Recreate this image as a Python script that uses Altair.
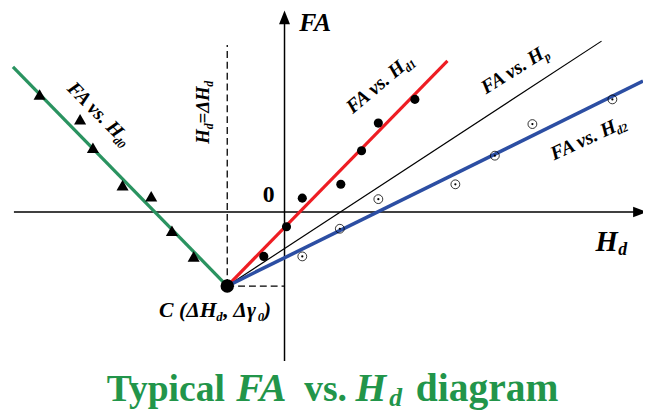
import altair as alt
import pandas as pd

# ---- data (chart units: origin at axis crossing) ----
C_point = (-5.8, -7.5)

tri_x = [-24.8, -20.7, -19.4, -16.4, -13.5, -11.4, -9.2]
tri_y = [11.9, 9.4, 6.5, 2.7, 1.6, -1.9, -4.5]

dot_x = [-2.1, 0.2, 1.8, 5.7, 7.8, 9.5, 13.2]
dot_y = [-4.5, -1.5, 1.4, 2.8, 6.2, 9.0, 11.4]

odot_x = [1.8, 5.6, 9.5, 17.3, 21.3, 25.1, 33.2]
odot_y = [-4.5, -1.7, 1.3, 2.8, 5.7, 8.9, 11.4]

# fitted line end points (other end is C)
green_end = (-27.5, 14.7)
red_end = (16.5, 15.3)
black_end = (32.1, 17.3)
blue_end = (36.3, 13.25)

FONT = "Liberation Serif"
xs = alt.Scale(domain=[-28.0, 36.3], nice=False, zero=False)
ys = alt.Scale(domain=[-19.9, 20.4], nice=False, zero=False)


def X(f="x"):
    return alt.X(f"{f}:Q", scale=xs, axis=None)


def Y(f="y"):
    return alt.Y(f"{f}:Q", scale=ys, axis=None)


def seg(x1, y1, x2, y2, color="black", width=1.5, dash=None):
    df = pd.DataFrame({"x": [x1], "y": [y1], "x2": [x2], "y2": [y2]})
    kw = dict(color=color, strokeWidth=width)
    if dash:
        kw["strokeDash"] = dash
    return alt.Chart(df).mark_rule(**kw).encode(
        x=X(), y=Y(), x2="x2:Q", y2="y2:Q")


def txt(x, y, s, size, angle=0, dx=0, dy=0, italic=True, color="black", align="left"):
    df = pd.DataFrame({"x": [x], "y": [y], "t": [s]})
    kw = dict(font=FONT, fontSize=size, fontWeight="bold", color=color,
              align=align, baseline="alphabetic", dx=dx, dy=dy)
    if italic:
        kw["fontStyle"] = "italic"
    if angle:
        kw["angle"] = angle
    return alt.Chart(df).mark_text(**kw).encode(x=X(), y=Y(), text="t:N")


def pts(xv, yv, **kw):
    df = pd.DataFrame({"x": xv, "y": yv})
    return alt.Chart(df).mark_point(**kw).encode(x=X(), y=Y())


layers = []
# axes
layers.append(seg(-27.4, 0, 36.3, 0, width=1.5))
layers.append(seg(0, -15.1, 0, 19.5, width=1.5))
layers.append(pts([0.0], [19.7], shape="M0,-1L0.79,1L-0.79,1Z", size=196,
                  filled=True, color="black", opacity=1))
layers.append(pts([36.0], [0.0], shape="M1,0L-1,0.75L-1,-0.75Z", size=196,
                  filled=True, color="black", opacity=1))
# dashed guides
layers.append(seg(C_point[0], C_point[1], C_point[0], 16.9, width=1.3, dash=[7, 4]))
layers.append(seg(C_point[0], C_point[1], 0, C_point[1], width=1.3, dash=[7, 4]))
# fitted lines
layers.append(seg(C_point[0], C_point[1], *green_end, color="#2a9360", width=3.3))
layers.append(seg(C_point[0], C_point[1], *black_end, color="black", width=1.2))
layers.append(seg(C_point[0], C_point[1], *red_end, color="#ee1d23", width=3.2))
layers.append(seg(C_point[0], C_point[1], *blue_end, color="#2c4ea3", width=3.6))
# markers
layers.append(pts(tri_x, tri_y, shape="triangle-up", size=150, filled=True,
                  color="black", opacity=1))
layers.append(pts(dot_x, dot_y, shape="circle", size=85, filled=True,
                  color="black", opacity=1))
layers.append(pts(odot_x, odot_y, shape="circle", size=80, filled=False,
                  color="black", strokeWidth=0.8, opacity=1))
layers.append(pts(odot_x, odot_y, shape="circle", size=5, filled=True,
                  color="black", opacity=1))
layers.append(pts([C_point[0]], [C_point[1]], shape="circle", size=185,
                  filled=True, color="black", opacity=1))

# line labels
MAIN = "FA vs. H"
WM = 70.0
layers.append(txt(-22.1, 12.4, MAIN, 20, angle=45))
layers.append(txt(-22.1, 12.4, "d0", 12, angle=45, dx=WM, dy=4))
layers.append(txt(6.9, 9.9, MAIN, 20, angle=320))
layers.append(txt(6.9, 9.9, "d1", 12, angle=320, dx=WM, dy=4))
layers.append(txt(20.4, 11.9, MAIN, 20, angle=328))
layers.append(txt(20.4, 11.9, "p", 12, angle=328, dx=WM, dy=4))
layers.append(txt(27.3, 5.2, MAIN, 20, angle=335))
layers.append(txt(27.3, 5.2, "d2", 12, angle=335, dx=WM, dy=4))
# vertical label H_d = ΔH_d
layers.append(txt(-7.6, 6.9, "H", 19, angle=270))
layers.append(txt(-7.6, 6.9, "d", 12, angle=270, dx=14.8, dy=4))
layers.append(txt(-7.6, 6.9, "=ΔH", 19, angle=270, dx=20.6))
layers.append(txt(-7.6, 6.9, "d", 12, angle=270, dx=57.8, dy=4))
# axis labels
layers.append(txt(-1.6, 1.0, "0", 24, italic=False, align="center"))
layers.append(txt(1.5, 18.3, "FA", 26))
layers.append(txt(31.5, -4.0, "H", 29))
layers.append(txt(31.5, -4.0, "d", 18, dx=23, dy=4))
# point C label
layers.append(txt(-12.7, -10.6, "C (ΔH", 22))
layers.append(txt(-12.7, -10.6, "d", 13, dx=58, dy=4))
layers.append(txt(-12.7, -10.6, ", Δγ", 22, dx=65))
layers.append(txt(-12.7, -10.6, "0", 13, dx=100, dy=4))
layers.append(txt(-12.7, -10.6, ")", 22, dx=106))
# title
G = "#22954a"
layers.append(txt(-18.0, -19.1, "Typical", 38, italic=False, color=G))
layers.append(txt(-4.9, -19.1, "FA", 41, color=G))
layers.append(txt(2.0, -19.1, "vs.", 38, italic=False, color=G))
layers.append(txt(7.2, -19.1, "H", 40, color=G))
layers.append(txt(10.6, -19.6, "d", 26, color=G))
layers.append(txt(13.3, -19.1, "diagram", 40, italic=False, color=G))

chart = alt.layer(*layers).properties(
    width=643, height=403, padding=0,
    autosize=alt.AutoSizeParams(type="none"),
    background="white",
).configure_view(stroke=None)

chart.save("out.html", embed_options={"renderer": "svg", "actions": False})
